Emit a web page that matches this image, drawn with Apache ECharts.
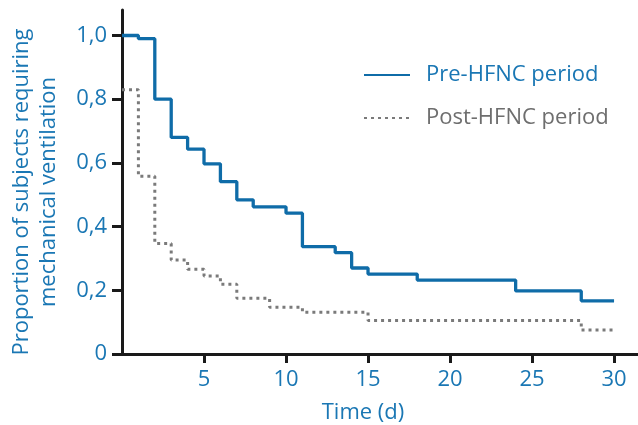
<!DOCTYPE html>
<html>
<head>
<meta charset="utf-8">
<script src="https://cdn.jsdelivr.net/npm/echarts@6/dist/echarts.min.js"></script>
<style>html,body{margin:0;padding:0;background:#fff}#c{width:638px;height:425px}</style>
</head>
<body>
<div id="c"></div>
<script>
// Kaplan-Meier style step data (time in days, proportion)
const preTimes  = [0, 1, 2, 3, 4, 5, 6, 7, 8, 10, 11, 13, 14, 15, 18, 24, 28, 30];
const preValues = [1.0, 0.99, 0.80, 0.68, 0.643, 0.597, 0.541, 0.484, 0.462, 0.442, 0.337, 0.318, 0.270, 0.251, 0.232, 0.198, 0.167, 0.167];
const postTimes  = [0, 1, 2, 3, 4, 5, 6, 7, 9, 11, 15, 28, 30];
const postValues = [0.83, 0.558, 0.347, 0.295, 0.266, 0.245, 0.219, 0.175, 0.147, 0.131, 0.105, 0.075, 0.075];
const seriesNames = ['Pre-HFNC period', 'Post-HFNC period'];
const xTickValues = [5, 10, 15, 20, 25, 30];
const yTickValues = [0, 0.2, 0.4, 0.6, 0.8, 1.0];

const BLUE = '#0f6ca8';
const TXT = '#1a77b4';
const GRAY = '#7a7a7a';
const AX = '#1a1a1a';
const FONT = '"Open Sans", sans-serif';

const pair = (t, v) => t.map((x, i) => [x, v[i]]);

const chart = echarts.init(document.getElementById('c'), null, {renderer: 'canvas'});
chart.setOption({
  animation: false,
  grid: {left: 122, right: 0, top: 10, bottom: 71, outerBoundsMode: 'none', containLabel: false},
  legend: {
    orient: 'vertical', left: 358, top: 59, itemWidth: 46, itemHeight: 20, itemGap: 21,
    itemStyle: {opacity: 0},
    data: [
      {name: seriesNames[0], textStyle: {color: TXT}},
      {name: seriesNames[1], textStyle: {color: '#6e6e6e'}}
    ],
    textStyle: {fontFamily: FONT, fontSize: 22, padding: [0, 0, 0, 11]}
  },
  xAxis: {
    type: 'value', min: 0, max: 31.46,
    name: 'Time (d)', nameLocation: 'middle', nameGap: 48,
    nameTextStyle: {color: TXT, fontFamily: FONT, fontSize: 22, padding: [0, 34, 0, 0]},
    axisLine: {show: true, lineStyle: {color: AX, width: 3}},
    axisTick: {show: true, length: 9, lineStyle: {color: AX, width: 3}, customValues: xTickValues},
    axisLabel: {color: TXT, fontFamily: FONT, fontSize: 22, margin: 15, customValues: xTickValues},
    splitLine: {show: false}
  },
  yAxis: {
    type: 'value', min: 0, max: 1.08,
    name: 'Proportion of subjects requiring\nmechanical ventilation',
    nameLocation: 'middle', nameGap: 60, nameRotate: 90,
    nameTextStyle: {color: TXT, fontFamily: FONT, fontSize: 22, lineHeight: 27, padding: [0, 20, 0, 0]},
    axisLine: {show: true, lineStyle: {color: AX, width: 3}},
    axisTick: {show: true, length: 10, lineStyle: {color: AX, width: 3}, customValues: yTickValues},
    axisLabel: {color: TXT, fontFamily: FONT, fontSize: 22, margin: 15, customValues: yTickValues,
      formatter: v => v === 0 ? '0' : v.toFixed(1).replace('.', ',')},
    splitLine: {show: false}
  },
  series: [
    {name: seriesNames[0], type: 'line', step: 'end', symbol: 'none',
     lineStyle: {color: BLUE, width: 3.3}, itemStyle: {color: BLUE},
     data: pair(preTimes, preValues)},
    {name: seriesNames[1], type: 'line', step: 'end', symbol: 'none',
     lineStyle: {color: GRAY, width: 3, type: [3, 4]}, itemStyle: {color: GRAY},
     data: pair(postTimes, postValues)}
  ]
});
</script>
</body>
</html>
